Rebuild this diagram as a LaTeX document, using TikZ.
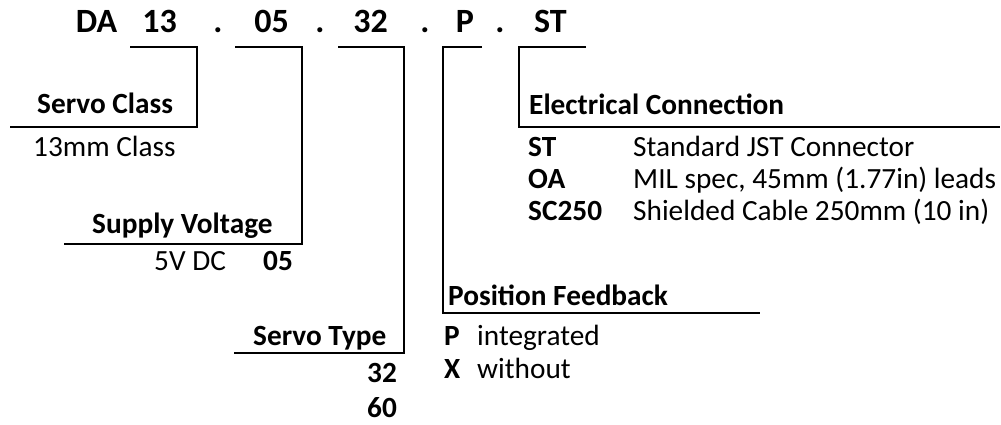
\documentclass[tikz,border=0pt]{standalone}
\usepackage{fontspec}
\setmainfont{Carlito}
\usepackage{tikz}
\usetikzlibrary{positioning,calc}
\newcommand{\titlesize}{\fontsize{34}{38}\selectfont}
\newcommand{\labelsize}{\fontsize{29.3}{33}\selectfont}
\tikzset{
  code/.style={font=\titlesize\bfseries,inner sep=0pt,anchor=base},
  heading/.style={font=\labelsize\bfseries,inner sep=0pt,anchor=base west},
  entry/.style={font=\labelsize,inner sep=0pt,anchor=base west},
  key/.style={font=\labelsize\bfseries,inner sep=0pt,anchor=base west},
  bracket/.style={line width=1.3pt}
}

\begin{document}
\begin{tikzpicture}[x=1pt,y=-1pt]
  \useasboundingbox (0,0) rectangle (1001,425);
  % part number
  \node[code] (tDA) at (96.5,33) {DA};
  \node[code] (t13) at (159.5,33) {13};
  \node[code] (dot1) at (218,33) {.};
  \node[code] (t05) at (271.5,33) {05};
  \node[code] (dot2) at (320,33) {.};
  \node[code] (t32) at (370.5,33) {32};
  \node[code] (dot3) at (425,33) {.};
  \node[code] (tP) at (465,33) {P};
  \node[code] (dot4) at (500,33) {.};
  \node[code] (tST) at (550.5,33) {ST};
  % bracket corners
  \coordinate (clsTop) at (130,47);
  \coordinate (clsCorner) at (197,127);
  \coordinate (clsEnd) at (10,127);
  \coordinate (voltTop) at (235,47);
  \coordinate (voltCorner) at (302,244);
  \coordinate (voltEnd) at (64,244);
  \coordinate (typeTop) at (338,47);
  \coordinate (typeCorner) at (404,353);
  \coordinate (typeEnd) at (234,353);
  \coordinate (fbTop) at (482,47);
  \coordinate (fbCorner) at (443,313);
  \coordinate (fbEnd) at (760,313);
  \coordinate (elTop) at (586,47);
  \coordinate (elCorner) at (519,127);
  \coordinate (elEnd) at (1000,127);
  % servo class
  \node[heading] (cls) at (37,114) {Servo Class};
  \node[entry] (cls13) at (33,157) {13mm Class};
  % supply voltage
  \node[heading] (volt) at (92,233) {Supply Voltage};
  \node[entry] (volt5) at (154,270) {5V DC};
  \node[key] (volt05) at (263,270) {05};
  % servo type
  \node[heading] (type) at (253,345) {Servo Type};
  \node[key] (type32) at (367,382) {32};
  \node[key] (type60) at (367,417) {60};
  % position feedback
  \node[heading] (fb) at (448,305) {Position Feedback};
  \node[key] (fbP) at (444,345) {P};
  \node[entry] (fbPtxt) at (477,345) {integrated};
  \node[key] (fbX) at (444,378) {X};
  \node[entry] (fbXtxt) at (477,378) {without};
  % electrical connection
  \node[heading] (el) at (529,115) {Electrical Connection};
  \node[key] (elST) at (528,157) {ST};
  \node[entry] (elSTtxt) at (633,157) {Standard JST Connector};
  \node[key] (elOA) at (528,188) {OA};
  \node[entry] (elOAtxt) at (633,188) {MIL spec, 45mm (1.77in) leads};
  \node[key] (elSC) at (528,220) {SC250};
  \node[entry] (elSCtxt) at (633,220) {Shielded Cable 250mm (10 in)};
  % brackets
  \draw[bracket] (clsTop) -| (clsCorner) -- (clsEnd);
  \draw[bracket] (voltTop) -| (voltCorner) -- (voltEnd);
  \draw[bracket] (typeTop) -| (typeCorner) -- (typeEnd);
  \draw[bracket] (fbTop) -| (fbCorner) -- (fbEnd);
  \draw[bracket] (elTop) -| (elCorner) -- (elEnd);
\end{tikzpicture}
\end{document}
